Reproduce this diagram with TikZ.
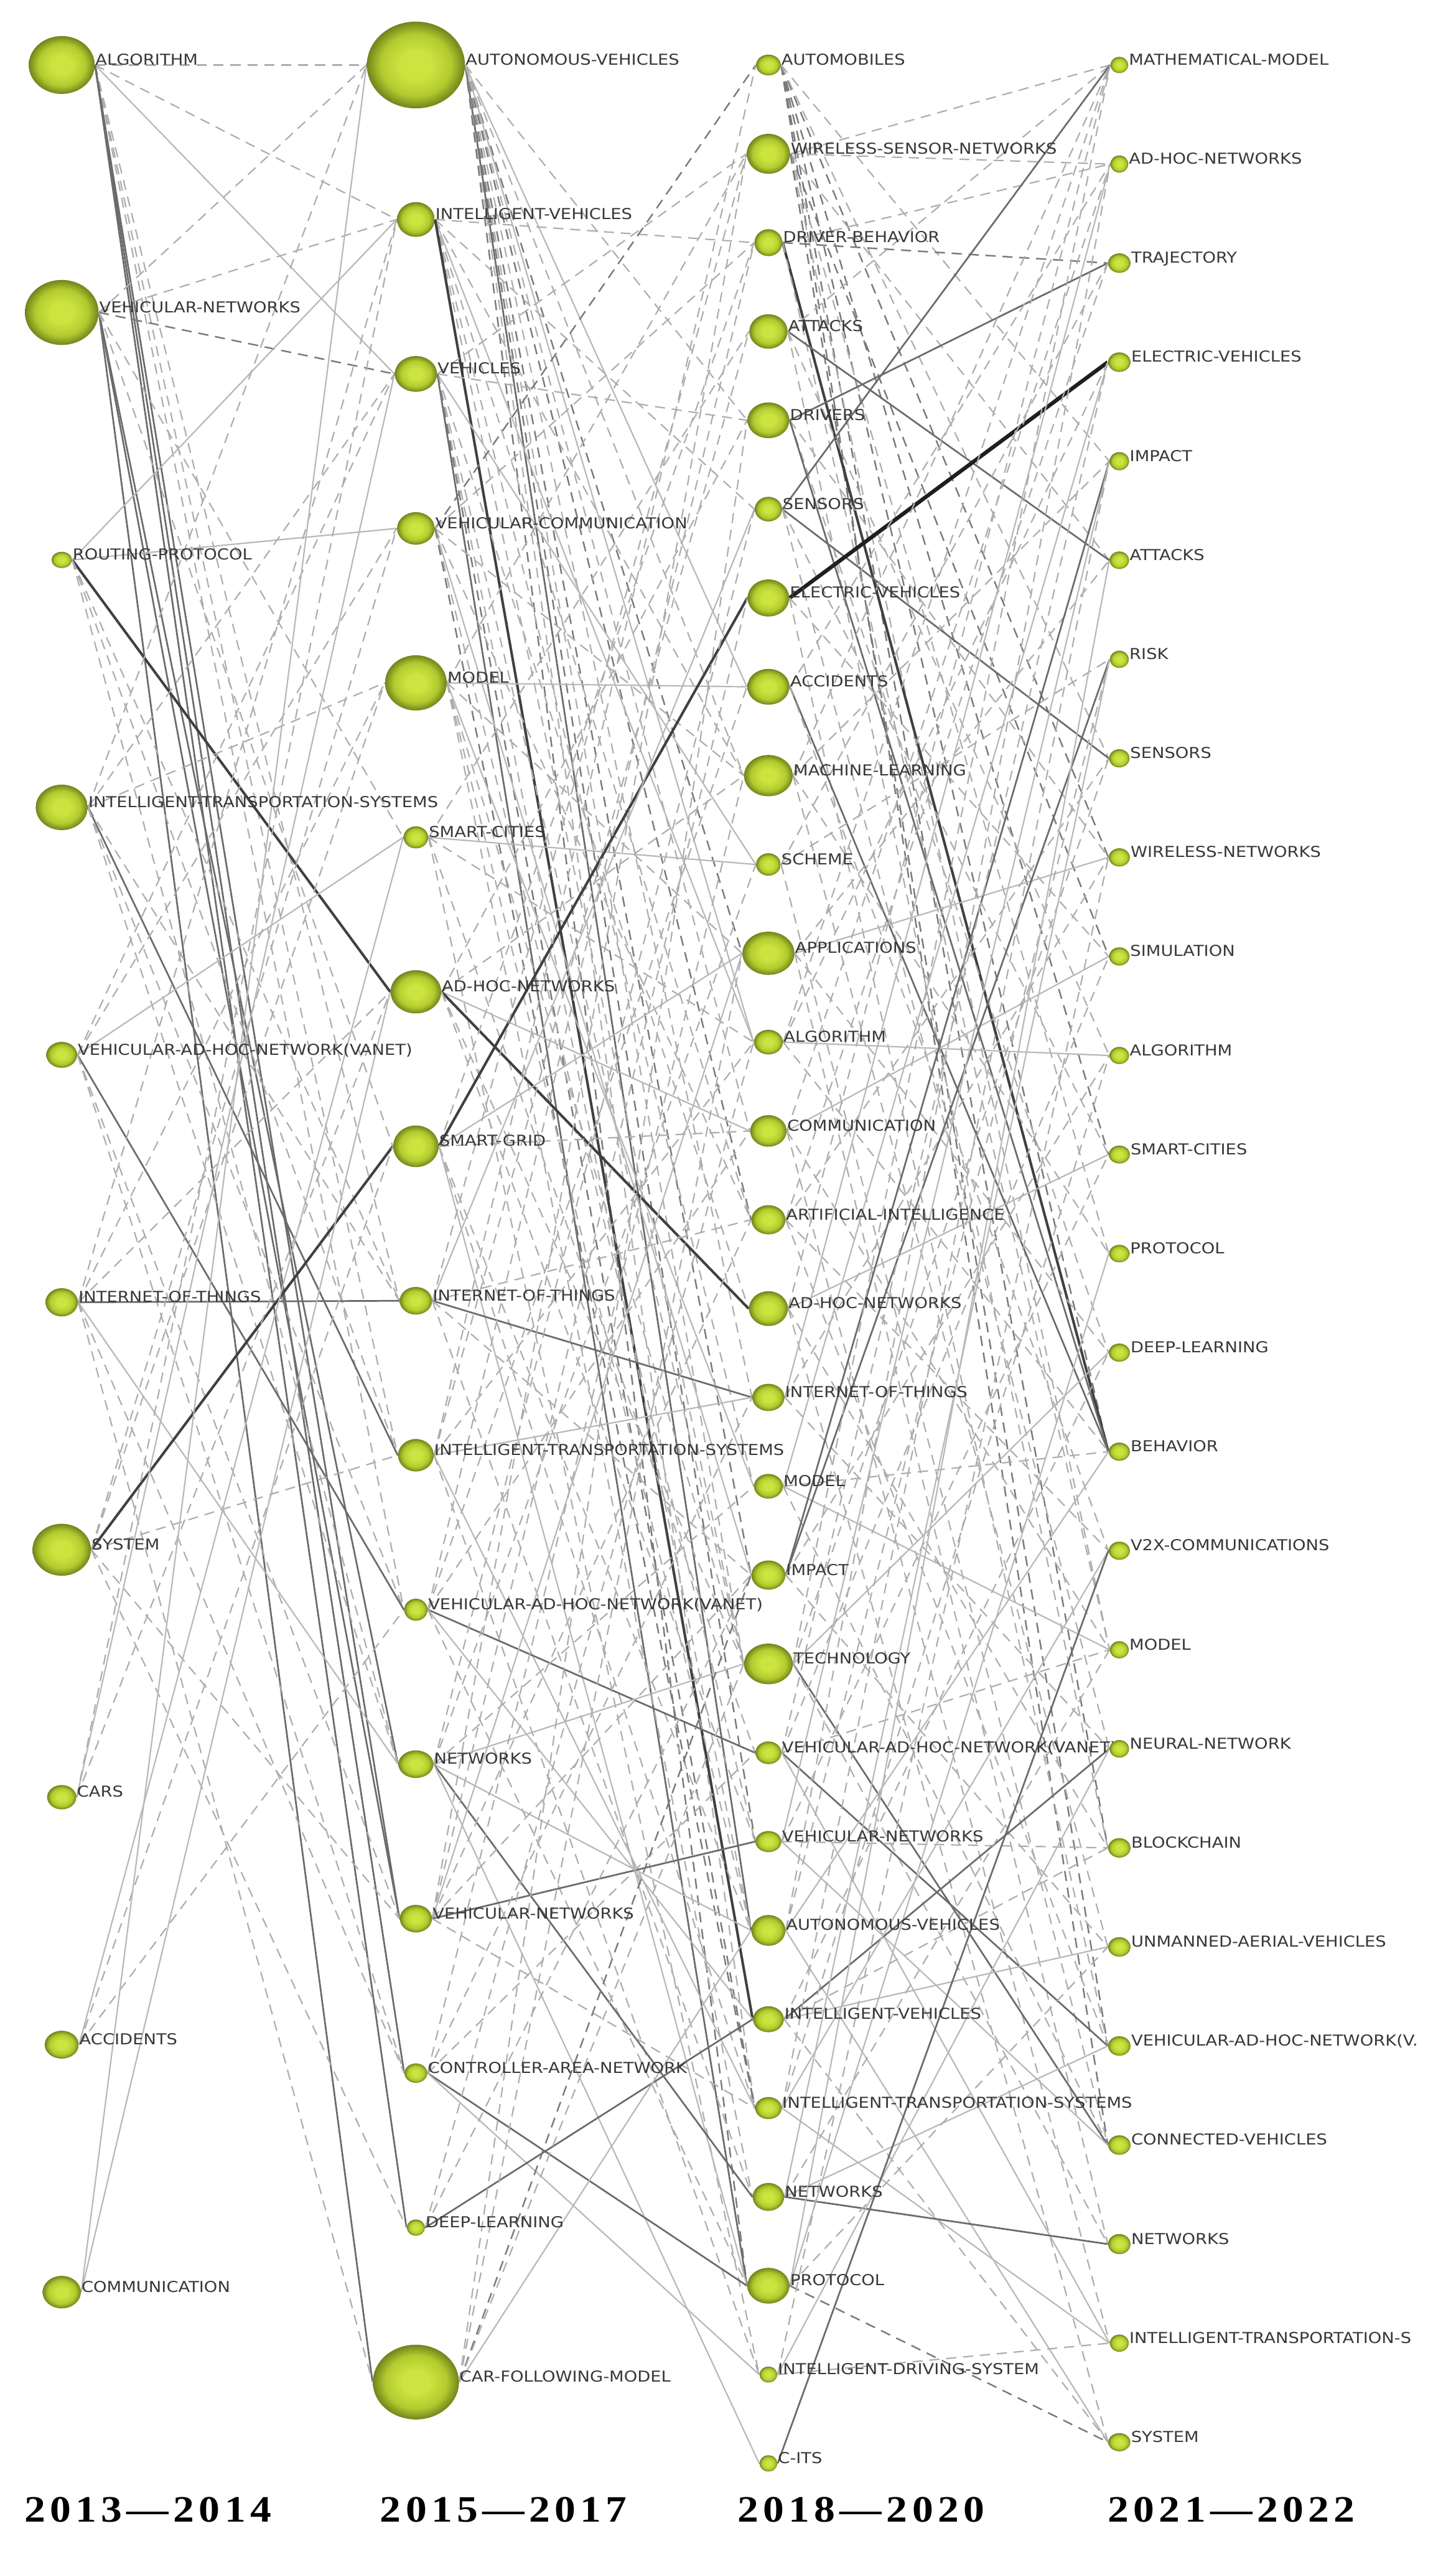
\documentclass[tikz,border=0pt]{standalone}
\usepackage{fontspec}
\usetikzlibrary{shapes.geometric}
\newfontfamily\lblfont{DejaVu Sans}[FakeStretch=1.13]
\newfontfamily\yrfont{Liberation Serif}[FakeStretch=1.13]
\definecolor{gcen}{RGB}{204,228,64}
\definecolor{gmid}{RGB}{178,202,46}
\definecolor{gedge}{RGB}{112,132,28}
\pgfdeclareradialshading{greenball}{\pgfpoint{0bp}{0bp}}{color(0bp)=(gcen); color(8bp)=(gcen); color(18bp)=(gmid); color(25bp)=(gedge); color(50bp)=(gedge)}
\pgfdeclarelayer{bg}
\pgfdeclarelayer{edges}
\pgfdeclarelayer{labels}
\pgfsetlayers{bg,edges,labels,main}
\tikzset{
  ball/.style={ellipse, inner sep=0pt, draw=none, shading=greenball},
  lbl/.style={anchor=base west, inner sep=0pt, font=\lblfont\fontsize{8.9}{10}\selectfont, text=black!78},
  ls/.style={draw=black!28, line width=0.8pt},
  ld/.style={draw=black!32, line width=0.8pt, dash pattern=on 6pt off 4pt},
  md/.style={draw=black!52, line width=0.9pt, dash pattern=on 6pt off 4pt},
  ms/.style={draw=black!58, line width=1.0pt},
  ds/.style={draw=black!75, line width=1.5pt},
  xs/.style={draw=black!88, line width=2.3pt},
  yr/.style={anchor=base, inner sep=0pt, font=\yrfont\bfseries\fontsize{22}{24}\selectfont, text=black}
}
\newcommand\yk{\kern2.7pt}
\newcommand\tnode[6]{%
  \node[ball, minimum width={#4*0.06748cm}, minimum height={#5*0.06748cm}] (#1) at (#2,#3) {};
  \begin{pgfonlayer}{labels}\node[lbl] (#1l) at (#1.east) {#6};\end{pgfonlayer}}
\begin{document}
\begin{tikzpicture}[x=0.03374cm, y=-0.03374cm]
\begin{pgfonlayer}{bg}
\fill[white] (0,0) rectangle (896,1568.8);
\end{pgfonlayer}
\useasboundingbox (0,0) rectangle (896,1568.8);
% ---- column 2013-2014
\tnode{A1}{38}{40}{20.3}{17.8}{ALGORITHM}
\tnode{A2}{38}{192.3}{22.7}{20}{VEHICULAR-NETWORKS}
\tnode{A3}{38}{344.6}{6.3}{5}{ROUTING-PROTOCOL}
\tnode{A4}{38}{496.9}{16}{14}{INTELLIGENT-TRANSPORTATION-SYSTEMS}
\tnode{A5}{38}{649.2}{9.5}{8}{VEHICULAR-AD-HOC-NETWORK(VANET)}
\tnode{A6}{38}{801.5}{10}{8.7}{INTERNET-OF-THINGS}
\tnode{A7}{38}{953.8}{18}{16}{SYSTEM}
\tnode{A8}{38}{1106.1}{9}{7.5}{CARS}
\tnode{A9}{38}{1258.4}{10.5}{8.6}{ACCIDENTS}
\tnode{A10}{38}{1410.7}{11.8}{10}{COMMUNICATION}
% ---- column 2015-2017
\tnode{B1}{256}{40}{30.2}{26.7}{AUTONOMOUS-VEHICLES}
\tnode{B2}{256}{135.07}{11.6}{10.7}{INTELLIGENT-VEHICLES}
\tnode{B3}{256}{230.14}{13}{11}{VEHICLES}
\tnode{B4}{256}{325.21}{11.6}{10}{VEHICULAR-COMMUNICATION}
\tnode{B5}{256}{420.28}{19}{17}{MODEL}
\tnode{B6}{256}{515.35}{7.6}{6.8}{SMART-CITIES}
\tnode{B7}{256}{610.42}{15.6}{13.3}{AD-HOC-NETWORKS}
\tnode{B8}{256}{705.49}{14}{12.8}{SMART-GRID}
\tnode{B9}{256}{800.56}{10}{8.5}{INTERNET-OF-THINGS}
\tnode{B10}{256}{895.63}{11}{10}{INTELLIGENT-TRANSPORTATION-SYSTEMS}
\tnode{B11}{256}{990.7}{7.2}{6.8}{VEHICULAR-AD-HOC-NETWORK(VANET)}
\tnode{B12}{256}{1085.77}{10.8}{8.5}{NETWORKS}
\tnode{B13}{256}{1180.84}{9.9}{8.5}{VEHICULAR-NETWORKS}
\tnode{B14}{256}{1275.91}{7}{6}{CONTROLLER-AREA-NETWORK}
\tnode{B15}{256}{1370.98}{5.6}{5}{DEEP-LEARNING}
\tnode{B16}{256}{1466.05}{26.5}{23}{CAR-FOLLOWING-MODEL}
% ---- column 2018-2020
\tnode{C1}{473}{40}{7.6}{6.4}{AUTOMOBILES}
\tnode{C2}{473}{94.67}{13.3}{12.3}{WIRELESS-SENSOR-NETWORKS}
\tnode{C3}{473}{149.34}{8.6}{8.3}{DRIVER-BEHAVIOR}
\tnode{C4}{473}{204.01}{11.8}{10.6}{ATTACKS}
\tnode{C5}{473}{258.68}{12.9}{11}{DRIVERS}
\tnode{C6}{473}{313.35}{8.4}{7.6}{SENSORS}
\tnode{C7}{473}{368.02}{12.8}{11.4}{ELECTRIC-VEHICLES}
\tnode{C8}{473}{422.69}{13}{11}{ACCIDENTS}
\tnode{C9}{473}{477.36}{15}{12.7}{MACHINE-LEARNING}
\tnode{C10}{473}{532.03}{7.6}{6.9}{SCHEME}
\tnode{C11}{473}{586.7}{16}{13.3}{APPLICATIONS}
\tnode{C12}{473}{641.37}{8.9}{7.6}{ALGORITHM}
\tnode{C13}{473}{696.04}{11.2}{9.7}{COMMUNICATION}
\tnode{C14}{473}{750.71}{10.5}{9}{ARTIFICIAL-INTELLIGENCE}
\tnode{C15}{473}{805.38}{12}{10.7}{AD-HOC-NETWORKS}
\tnode{C16}{473}{860.05}{9.9}{8.4}{INTERNET-OF-THINGS}
\tnode{C17}{473}{914.72}{8.9}{7.6}{MODEL}
\tnode{C18}{473}{969.39}{10.5}{9}{IMPACT}
\tnode{C19}{473}{1024.06}{15}{12.5}{TECHNOLOGY}
\tnode{C20}{473}{1078.73}{8}{7}{VEHICULAR-AD-HOC-NETWORK(VANET)}
\tnode{C21}{473}{1133.4}{8}{6.5}{VEHICULAR-NETWORKS}
\tnode{C22}{473}{1188.07}{10.5}{9.5}{AUTONOMOUS-VEHICLES}
\tnode{C23}{473}{1242.74}{9.5}{8}{INTELLIGENT-VEHICLES}
\tnode{C24}{473}{1297.41}{8.2}{6.8}{INTELLIGENT-TRANSPORTATION-SYSTEMS}
\tnode{C25}{473}{1352.08}{9.7}{8.6}{NETWORKS}
\tnode{C26}{473}{1406.75}{13}{11}{PROTOCOL}
\tnode{C27}{473}{1461.42}{5.5}{4.9}{INTELLIGENT-DRIVING-SYSTEM}
\tnode{C28}{473}{1516.09}{5.5}{5}{C-ITS}
% ---- column 2021-2022
\tnode{D1}{689}{40}{5.5}{5}{MATHEMATICAL-MODEL}
\tnode{D2}{689}{100.96}{5.5}{5.3}{AD-HOC-NETWORKS}
\tnode{D3}{689}{161.92}{6.9}{6}{TRAJECTORY}
\tnode{D4}{689}{222.88}{6.9}{6}{ELECTRIC-VEHICLES}
\tnode{D5}{689}{283.84}{6}{5.6}{IMPACT}
\tnode{D6}{689}{344.8}{6}{5.4}{ATTACKS}
\tnode{D7}{689}{405.76}{5.8}{5.3}{RISK}
\tnode{D8}{689}{466.72}{6.3}{5.6}{SENSORS}
\tnode{D9}{689}{527.68}{6.5}{5.6}{WIRELESS-NETWORKS}
\tnode{D10}{689}{588.64}{6.3}{5.6}{SIMULATION}
\tnode{D11}{689}{649.6}{6}{5.3}{ALGORITHM}
\tnode{D12}{689}{710.56}{6.5}{5.5}{SMART-CITIES}
\tnode{D13}{689}{771.52}{6.3}{5.4}{PROTOCOL}
\tnode{D14}{689}{832.48}{6.5}{5.6}{DEEP-LEARNING}
\tnode{D15}{689}{893.44}{6.5}{5.6}{BEHAVIOR}
\tnode{D16}{689}{954.4}{6.5}{5.6}{V2X-COMMUNICATIONS}
\tnode{D17}{689}{1015.36}{5.8}{5.3}{MODEL}
\tnode{D18}{689}{1076.32}{6}{5.4}{NEURAL-NETWORK}
\tnode{D19}{689}{1137.28}{6.9}{6}{BLOCKCHAIN}
\tnode{D20}{689}{1198.24}{6.9}{6}{UNMANNED-AERIAL-VEHICLES}
\tnode{D21}{689}{1259.2}{6.9}{6}{VEHICULAR-AD-HOC-NETWORK(V.}
\tnode{D22}{689}{1320.16}{6.9}{6}{CONNECTED-VEHICLES}
\tnode{D23}{689}{1381.12}{6.9}{6.2}{NETWORKS}
\tnode{D24}{689}{1442.08}{5.8}{5.3}{INTELLIGENT-TRANSPORTATION-S}
\tnode{D25}{689}{1503.04}{6.8}{5.6}{SYSTEM}
% ---- connectors
\begin{pgfonlayer}{edges}
\foreach \s/\t/\st in {A1/B1/ld, A1/B2/ld, A1/B3/ls, A1/B9/ld, A1/B10/ld, A1/B11/ld, A1/B13/ms, A1/B14/ms, A1/B15/ms,
 A2/B1/ld, A2/B2/ld, A2/B3/md, A2/B12/ms, A2/B13/ms, A2/B16/ms, A2/B6/ld, A2/B8/ld,
 A3/B2/ls, A3/B4/ls, A3/B7/ds, A3/B9/ld, A3/B10/ld, A3/B12/ld,
 A4/B3/ld, A4/B5/ld, A4/B9/ld, A4/B10/ms, A4/B11/ld, A4/B12/ld, A4/B1/ld,
 A5/B3/ld, A5/B4/ld, A5/B6/ls, A5/B11/ms, A5/B13/ld, A5/B14/ld,
 A6/B2/ld, A6/B5/ld, A6/B9/ms, A6/B12/ls, A6/B14/ld, A6/B16/ld, A6/B7/ld,
 A7/B4/ld, A7/B8/ds, A7/B13/ld, A7/B15/ld, A7/B5/ld, A7/B10/ld,
 A8/B3/ls, A8/B2/ld, A8/B7/ld,
 A9/B6/ls, A9/B11/ld, A9/B8/ld,
 A10/B1/ls, A10/B7/ls}
  \draw[\st] (\s.east) -- (\t.west);
\foreach \s/\t/\st in {B1/C5/ld, B1/C8/ls, B1/C9/ld, B1/C11/md, B1/C13/ld, B1/C14/md, B1/C16/ld, B1/C18/md, B1/C19/ld, B1/C21/md, B1/C22/ms, B1/C24/ld, B1/C26/md, B1/C12/ls,
 B2/C3/ld, B2/C6/ld, B2/C9/ld, B2/C12/ls, B2/C14/ld, B2/C17/ld, B2/C19/ld, B2/C23/ds,
 B3/C2/ld, B3/C5/ld, B3/C10/ls, B3/C15/ld, B3/C19/ld, B3/C22/ld, B3/C26/ms, B3/C24/md,
 B4/C1/md, B4/C3/ld, B4/C9/ld, B4/C14/ld, B4/C18/ls, B4/C21/ld, B4/C24/md,
 B5/C2/ld, B5/C8/ls, B5/C11/ld, B5/C17/ls, B5/C19/ld, B5/C22/ld, B5/C25/ld,
 B6/C4/ld, B6/C10/ls, B6/C12/ld, B6/C20/ld, B6/C27/ld,
 B7/C5/ld, B7/C9/ld, B7/C13/ls, B7/C15/ds, B7/C19/ld, B7/C21/ld,
 B8/C3/ld, B8/C7/ds, B8/C11/ls, B8/C13/ld, B8/C22/ld, B8/C24/ld, B8/C26/ls,
 B9/C2/ld, B9/C6/ls, B9/C14/ld, B9/C16/ms, B9/C18/ld, B9/C25/ld,
 B10/C1/ld, B10/C4/ld, B10/C12/ld, B10/C16/ls, B10/C24/ls, B10/C27/ld,
 B11/C3/ld, B11/C8/ld, B11/C13/ld, B11/C20/ms, B11/C23/ls, B11/C26/ld,
 B12/C6/ld, B12/C10/ld, B12/C17/ld, B12/C19/ls, B12/C22/ls, B12/C25/ms, B12/C28/ls,
 B13/C2/ld, B13/C7/ld, B13/C11/ls, B13/C14/ld, B13/C18/ld, B13/C21/ms, B13/C24/ld,
 B14/C9/ld, B14/C16/ld, B14/C20/ld, B14/C26/ms, B14/C27/ls,
 B15/C12/ld, B15/C18/ld, B15/C23/ms,
 B16/C5/ld, B16/C11/ld, B16/C18/md, B16/C19/ld, B16/C22/ls}
  \draw[\st] (\s.east) -- (\t.west);
\foreach \s/\t/\st in {C1/D9/md, C1/D12/md, C1/D15/md, C1/D19/md, C1/D22/md, C1/D5/ld, C1/D8/ld,
 C2/D1/ld, C2/D2/ld, C2/D6/ld, C2/D10/md, C2/D13/ld, C2/D17/ld, C2/D21/md,
 C3/D2/ld, C3/D3/md, C3/D15/ds, C3/D17/ld,
 C4/D1/ld, C4/D6/ms, C4/D11/ld, C4/D19/ld,
 C5/D3/ms, C5/D9/ld, C5/D14/ld, C5/D15/ms,
 C6/D1/ms, C6/D8/ms, C6/D12/ld, C6/D18/ld,
 C7/D4/xs, C7/D10/ld, C7/D21/ld,
 C8/D2/ld, C8/D15/ms, C8/D16/ld,
 C9/D1/ld, C9/D5/ld, C9/D13/ld, C9/D20/ld,
 C10/D3/ld, C10/D7/ld, C10/D22/ld,
 C11/D6/ld, C11/D9/ls, C11/D14/ld, C11/D23/ld,
 C12/D1/ld, C12/D4/ld, C12/D11/ls, C12/D15/ld,
 C13/D2/ld, C13/D10/ls, C13/D17/ld, C13/D24/ld,
 C14/D3/ld, C14/D8/ld, C14/D16/ld, C14/D21/ld,
 C15/D1/ld, C15/D12/ls, C15/D19/ld, C15/D25/ld,
 C16/D2/ls, C16/D9/ld, C16/D18/ld,
 C17/D4/ls, C17/D15/ld, C17/D17/ls, C17/D22/ld,
 C18/D5/ms, C18/D7/ms, C18/D11/ld, C18/D20/ld,
 C19/D1/ld, C19/D8/ld, C19/D14/ls, C19/D22/ms, C19/D23/ld,
 C20/D4/ld, C20/D10/ld, C20/D17/ld, C20/D21/ms, C20/D24/ls,
 C21/D5/ls, C21/D12/ld, C21/D19/ld, C21/D22/ls,
 C22/D2/ld, C22/D7/ld, C22/D15/ls, C22/D25/ls,
 C23/D14/ld, C23/D18/ms, C23/D19/ld, C23/D20/ls, C23/D25/ld,
 C24/D5/ld, C24/D11/ld, C24/D16/ls, C24/D24/ls,
 C25/D7/ls, C25/D17/ld, C25/D21/ls, C25/D23/ms,
 C26/D6/ls, C26/D13/ls, C26/D20/ld, C26/D25/md,
 C27/D9/ld, C27/D18/ls, C27/D24/ld,
 C28/D16/ms}
  \draw[\st] (\s.east) -- (\t.west);
\end{pgfonlayer}
% ---- period labels
\node[yr] (Y1) at (91,1552) {2\yk0\yk1\yk3\yk—\yk2\yk0\yk1\yk4};
\node[yr] (Y2) at (310,1552) {2\yk0\yk1\yk5\yk—\yk2\yk0\yk1\yk7};
\node[yr] (Y3) at (530,1552) {2\yk0\yk1\yk8\yk—\yk2\yk0\yk2\yk0};
\node[yr] (Y4) at (758,1552) {2\yk0\yk2\yk1\yk—\yk2\yk0\yk2\yk2};
\end{tikzpicture}
\end{document}
